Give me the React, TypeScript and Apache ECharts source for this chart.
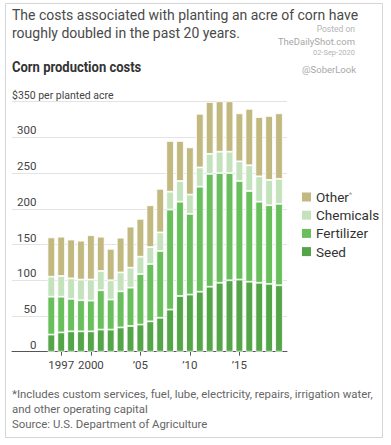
import React, { useEffect, useRef } from "react";
import * as echarts from "echarts";

const years = [1996, 1997, 1998, 1999, 2000, 2001, 2002, 2003, 2004, 2005, 2006, 2007, 2008, 2009, 2010, 2011, 2012, 2013, 2014, 2015, 2016, 2017, 2018, 2019];
const seed = [24, 27, 28.5, 28.5, 28.5, 31, 31, 34, 36, 38, 42.5, 47.5, 59, 78, 80, 84, 91, 96.5, 100, 101, 98, 96.5, 95, 93];
const fertilizer = [53, 50, 45.5, 43.5, 43, 55, 42, 50.5, 53.6, 70.7, 80.2, 93.5, 140, 132, 113, 147, 158, 153.5, 150, 138, 127, 113.5, 110, 114];
const chemicals = [28, 29, 28.7, 29, 29.6, 27, 27, 26.5, 28, 24.3, 23.8, 26, 25, 29, 27, 27, 28, 30, 30, 27.5, 36, 35.5, 35.5, 35];
const other = [55, 55, 54.3, 54.4, 62, 48, 44, 48.6, 57.4, 53, 58.5, 61, 71, 56, 66, 75, 72.5, 76, 76, 67.2, 79, 83, 89.5, 91.7];

const seriesNames = ["Seed", "Fertilizer", "Chemicals", "Other"];
const legendOrder = ["Other", "Chemicals", "Fertilizer", "Seed"];
const seriesColors = ["#53a548", "#68bf5b", "#c4e3bd", "#c2b980"];

const xTickValues = [1997, 2000, 2005, 2010, 2015];
const xTickLabels = ["1997", "2000", "\u201905", "\u201910", "\u201915"];

const titleLines = [
  "The costs associated with planting an acre of corn have",
  "roughly doubled in the past 20 years.",
];
const subtitle = "Corn production costs";
const unitLabel = "$350 per planted acre";
const footnoteLines = [
  "*Includes custom services, fuel, lube, electricity, repairs, irrigation water,",
  "and other operating capital",
  "Source: U.S. Department of Agriculture",
];
const watermark = ["Posted on", "TheDailyShot.com", "02-Sep-2020", "@SoberLook"];

const FONT = "Roboto, 'Noto Sans', sans-serif";

export default function App() {
  const ref = useRef<HTMLDivElement>(null);

  useEffect(() => {
    if (!ref.current) return;
    const chart = echarts.init(ref.current, undefined, { renderer: "svg" });
    const valuesBySeries = [seed, fertilizer, chemicals, other];
    const isTickYear = (_idx: number, val: string) => xTickValues.indexOf(Number(val)) >= 0;

    const option: any = {
      animation: false,
      backgroundColor: "#ffffff",
      textStyle: { fontFamily: FONT },
      grid: [
        { left: 46.35, right: 107.05, top: 101.7, bottom: 93.3, containLabel: false },
        { left: 12, right: 104, top: 101.7, bottom: 93.3, containLabel: false },
      ],
      legend: {
        orient: "vertical",
        left: 297,
        top: 185,
        itemWidth: 9,
        itemHeight: 9,
        itemGap: 4.2,
        icon: "rect",
        data: legendOrder,
        itemStyle: { borderWidth: 0 },
        selectedMode: false,
        formatter: (name: string) => (name === "Other" ? "Other{sup|*}" : name),
        textStyle: {
          fontFamily: FONT,
          fontSize: 13.5,
          lineHeight: 14,
          color: "#333",
          rich: {
            sup: { fontSize: 8, color: "#999", verticalAlign: "top", lineHeight: 14 },
          },
        },
      },
      xAxis: [
        {
          type: "category",
          gridIndex: 0,
          data: years.map(String),
          boundaryGap: true,
          axisLine: { show: false },
          splitLine: { show: false },
          axisTick: {
            show: true,
            alignWithLabel: true,
            length: 4,
            interval: isTickYear,
            lineStyle: { color: "#555" },
          },
          axisLabel: {
            interval: isTickYear,
            margin: 7,
            fontFamily: FONT,
            fontSize: 11.5,
            color: "#444",
            formatter: (v: string) => {
              const i = xTickValues.indexOf(Number(v));
              return i >= 0 ? xTickLabels[i] : "";
            },
          },
        },
        {
          type: "value",
          gridIndex: 1,
          min: 0,
          max: 1,
          axisLine: { show: true, lineStyle: { color: "#555", width: 1 } },
          axisTick: { show: false },
          axisLabel: { show: false },
          splitLine: { show: false },
        },
      ],
      yAxis: [
        {
          type: "value",
          gridIndex: 0,
          min: 0,
          max: 350,
          interval: 50,
          show: false,
          splitLine: { show: false },
        },
        {
          type: "value",
          gridIndex: 1,
          min: 0,
          max: 350,
          interval: 50,
          axisLine: { show: false },
          axisTick: { show: false },
          splitLine: { show: true, lineStyle: { color: "#e3e3e3", width: 1 } },
          axisLabel: {
            inside: true,
            margin: 0,
            align: "left",
            verticalAlign: "bottom",
            color: "#444",
            fontFamily: FONT,
            fontSize: 11.5,
            formatter: (v: number) =>
              v === 350 ? "{u|" + unitLabel + "}" : "{n|" + v + "}",
            rich: {
              n: { width: 24.5, align: "right", fontSize: 11.5, color: "#444", padding: [0, 0, 1, 0] },
              u: { fontSize: 10.5, color: "#444", padding: [0, 0, 1, 0] },
            },
          },
        },
      ],
      series: seriesNames.map((name, si) => ({
        name,
        type: "bar",
        xAxisIndex: 0,
        yAxisIndex: 0,
        stack: "total",
        barWidth: 7.6,
        itemStyle: { color: seriesColors[si], borderColor: "#ffffff", borderWidth: 0.8 },
        emphasis: { disabled: true },
        data: valuesBySeries[si],
      })),
      graphic: [
        {
          type: "rect",
          z: -10,
          shape: { x: 5.5, y: 3.5, width: 377, height: 434 },
          style: { fill: "none", stroke: "#d5d5d5", lineWidth: 1 },
        },
        ...titleLines.map((t, i) => ({
          type: "text",
          x: 12,
          y: 15 + i * 18,
          style: { text: t, fontFamily: FONT, fontSize: 14, fill: "#4a4a4a", verticalAlign: "middle", align: "left" },
        })),
        {
          type: "text",
          x: 12,
          y: 67,
          scaleX: 0.93,
          style: { text: subtitle, fontFamily: FONT, fontSize: 14, fontWeight: "bold", fill: "#333", verticalAlign: "middle", align: "left" },
        },
        {
          type: "text",
          x: 355,
          y: 28.5,
          style: { text: watermark[0], fontFamily: FONT, fontSize: 8.5, fill: "#b5b5b5", verticalAlign: "middle", align: "right" },
        },
        {
          type: "text",
          x: 355,
          y: 41,
          style: { text: watermark[1], fontFamily: FONT, fontSize: 9.5, fill: "#a8a8a8", verticalAlign: "middle", align: "right" },
        },
        {
          type: "text",
          x: 355,
          y: 52,
          style: { text: watermark[2], fontFamily: FONT, fontSize: 7.5, fill: "#b5b5b5", verticalAlign: "middle", align: "right" },
        },
        {
          type: "text",
          x: 356,
          y: 69.5,
          style: { text: watermark[3], fontFamily: FONT, fontSize: 9.5, fill: "#a8a8a8", verticalAlign: "middle", align: "right" },
        },
        ...footnoteLines.map((t, i) => ({
          type: "text",
          x: 12,
          y: 393.5 + i * 15,
          style: { text: t, fontFamily: FONT, fontSize: 11.4, fill: "#666", verticalAlign: "middle", align: "left" },
        })),
      ],
    };

    chart.setOption(option);
    return () => chart.dispose();
  }, []);

  return (
    <div
      ref={ref}
      style={{ position: "absolute", left: 0, top: 0, width: 391, height: 445 }}
    />
  );
}
